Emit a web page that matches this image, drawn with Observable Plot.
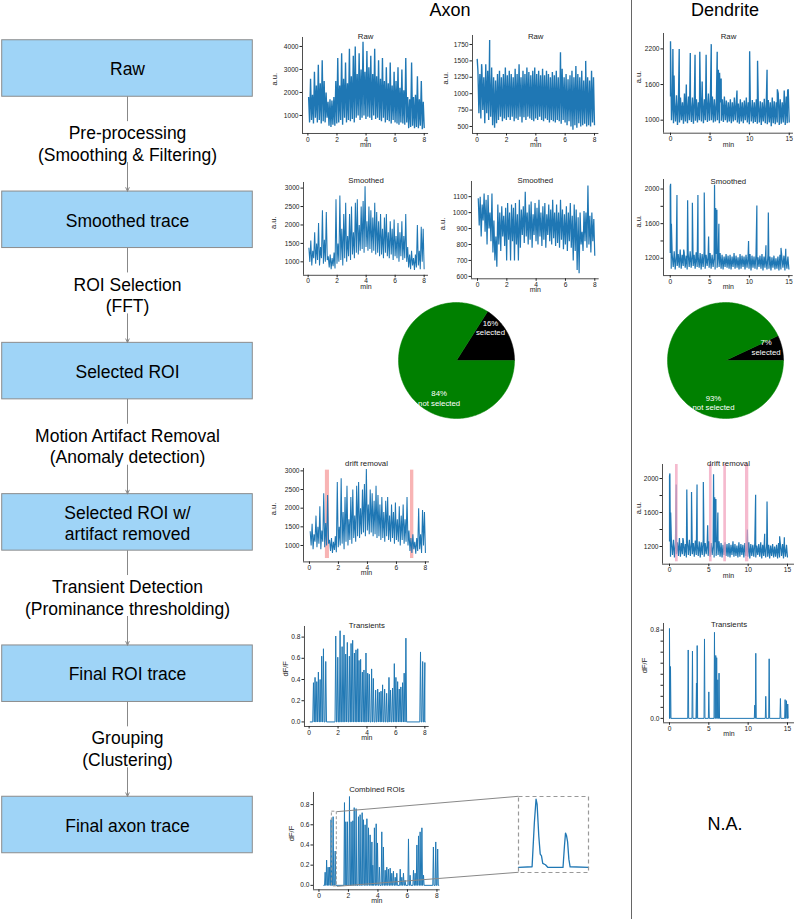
<!DOCTYPE html>
<html><head><meta charset="utf-8">
<script src="https://cdn.jsdelivr.net/npm/d3@7"></script>
<script src="https://cdn.jsdelivr.net/npm/@observablehq/plot@0.6"></script>
<style>
html,body{margin:0;padding:0;background:#fff;}
#fig{position:relative;width:797px;height:919px;overflow:hidden;font-family:"Liberation Sans",Arial,sans-serif;background:#fff;}
#fig svg{position:absolute;overflow:visible !important;max-width:none !important;}
.hdr{position:absolute;top:0;font-size:18px;line-height:20px;transform:translateX(-50%);white-space:nowrap;color:#000;}
#divider{position:absolute;left:630.5px;top:0;width:1.6px;height:919px;background:#666;}
</style></head>
<body><div id="fig">
<div id="divider"></div>
<div class="hdr" style="left:450px">Axon</div>
<div class="hdr" style="left:725px">Dendrite</div>
<div class="hdr" style="left:725px;top:814px">N.A.</div>
</div>
<script>
// ---------------- data ----------------
const steps = ["Raw", "Smoothed trace", "Selected ROI", "Selected ROI w/\nartifact removed", "Final ROI trace", "Final axon trace"];
const transitions = [
  ["Pre-processing", "(Smoothing & Filtering)"],
  ["ROI Selection", "(FFT)"],
  ["Motion Artifact Removal", "(Anomaly detection)"],
  ["Transient Detection", "(Prominance thresholding)"],
  ["Grouping", "(Clustering)"]
];

// Axon raw ROI 1 (a.u.), peaks / troughs across 0-8 min
const axRaw1Hi = [1800,2600,1900,2900,2300,3200,2400,3400,2500,2000,
  1600,1700,1650,1800,
  2500,3500,2300,3700,2600,3300,2400,3900,2700,3600,4000,2800,3700,3000,4200,2900,3800,3100,3600,2800,3900,2700,3400,
  2600,3500,2500,3100,2400,3300,2300,2900,2500,3100,2200,3000,2100,3500,
  1800,1700,3300,1800,1900,2700,1700,2500,1600];
const axRaw1Lo = [700,800,650,900,700,800,650,750,700,900,
  550,500,600,550,
  650,700,800,600,900,700,800,750,850,700,900,1000,800,900,1000,850,950,900,800,1000,850,900,800,
  750,900,700,800,750,650,800,700,650,600,700,650,600,700,
  450,500,550,450,500,450,550,400,450];
const axRaw1Spikes = [];

// Axon raw ROI 2
const axRaw2Hi = [1350,1300,1400,1250,1450,1350,1300,1400,1250,1200,
  1300,1350,1250,1300,1400,1280,1350,1300,1250,1380,
  1300,1450,1250,1350,1300,1400,1330,1280,1350,1400,
  1300,1350,1280,1380,1280,1350,1300,1250,1330,1280,
  1350,1250,1300,1380,1250,1300,1220,1280,1350,1250,
  1420,1300,1250,1350,1200,1300,1250,1200,1350,1250];
const axRaw2Lo = [700,620,750,550,700,600,650,520,480,550,
  600,650,580,620,600,640,600,650,580,620,
  600,650,560,640,600,650,620,600,580,620,
  600,650,600,580,620,600,560,600,580,560,
  600,580,540,600,560,520,580,500,450,520,
  480,550,500,520,540,500,520,500,560,520];
const axRaw2Spikes = [[0.0,1530],[0.3,1450],[0.85,1820],[5.68,1630],[7.4,1500]];

// Dendrite raw (0-15 min)
const dnRawHi = [1400,1350,1300,1420,1350,1380,1300,1450,1350,1400,
  1320,1380,1420,1350,1300,1400,1380,1350,1420,1450,
  1380,1400,1350,1320,1380,1300,1350,1400,1330,1300,
  1350,1300,1380,1320,1280,1350,1300,1330,1380,1300,
  1280,1340,1300,1350,1280,1320,1300,1360,1280,1340,
  1300,1380,1320,1300,1450,1350,1300,1500,1400,1520];
const dnRawLo = [1000,950,980,920,960,1000,940,980,950,1000,
  970,940,990,960,1000,980,950,1000,970,990,
  1000,960,980,1000,950,990,970,1000,960,980,
  950,980,1000,960,940,980,950,1000,960,930,
  980,950,970,940,960,920,980,950,930,960,
  900,950,930,960,920,940,960,920,950,960];
const dnRawSpikes = [[0.0,2330],[0.3,2200],[0.45,1750],[1.1,2200],[2.0,1600],[2.5,2130],[3.1,2100],[3.7,2150],[4.0,1650],[4.5,2100],[5.15,2280],[5.9,2150],[6.05,1850],[6.2,1800],[6.4,1700],[8.4,1500],[10.0,2160],[11.0,2000],[12.2,1850],[13.5,1520],[14.8,1500]];

// Axon smoothed ROI 1 (also used for drift removal)
const axSm1Hi = [1380,1580,1300,1800,1500,2050,1400,2400,1600,2350,
  1150,1200,1100,1250,
  2700,1500,2800,1900,2300,2600,1700,2300,2500,1800,2600,2700,2000,2500,2650,3050,2100,2500,2400,2200,2600,2350,2100,
  2300,1900,2200,2300,1800,2100,1900,2150,1700,2050,1800,2100,1700,2300,
  1400,1200,1300,1100,1200,2000,1300,1950,1900];
const axSm1Lo = [1000,900,1100,950,1050,900,1100,950,1000,1050,
  850,800,880,820,
  950,1000,1050,900,1100,1000,1150,1050,1200,1100,1250,1200,1300,1350,1250,1400,1300,1350,1250,1300,1200,1250,1150,
  1200,1100,1250,1150,1100,1200,1050,1150,1100,1000,1150,1050,1100,1000,
  850,800,900,780,850,900,800,1000,800];

// Axon smoothed ROI 2
const axSm2Hi = [1090,1100,1050,1120,1080,1110,1000,1120,950,850,
  1050,1000,1040,980,1030,1060,1000,1050,1030,1060,
  990,1080,1020,1040,1130,1000,1050,1070,990,1060,
  1030,1080,1000,1040,1060,990,1050,1020,1080,1000,
  1050,1000,1080,1020,990,1040,1000,1060,980,1050,
  1020,970,1000,880,1010,1000,1170,980,1000,960];
const axSm2Lo = [920,850,950,880,800,900,820,750,700,660,
  800,760,850,790,700,830,700,820,700,800,
  700,780,860,810,850,800,830,780,860,820,
  800,850,790,830,780,860,820,800,840,790,
  810,780,830,770,800,760,820,780,700,760,
  640,620,800,760,820,780,800,750,820,730];

// Dendrite smoothed (also used for drift removal)
const dnSmHi = [1260,1240,1280,1230,1250,1300,1240,1270,1230,1260,
  1280,1250,1240,1270,1230,1260,1250,1280,1240,1230,
  1260,1240,1220,1250,1230,1260,1240,1220,1250,1230,
  1240,1220,1260,1230,1210,1250,1230,1220,1240,1210,
  1250,1230,1220,1240,1210,1230,1250,1220,1200,1240,
  1220,1210,1230,1200,1220,1240,1210,1230,1200,1220];
const dnSmLo = [1080,1100,1070,1110,1090,1080,1110,1090,1070,1100,
  1090,1110,1080,1100,1090,1070,1100,1080,1110,1090,
  1080,1100,1070,1090,1100,1080,1070,1100,1090,1080,
  1070,1100,1080,1090,1070,1080,1100,1070,1090,1080,
  1060,1090,1080,1070,1100,1080,1060,1090,1070,1080,
  1060,1090,1070,1080,1060,1070,1090,1060,1080,1070];
const dnSmSpikes = [[0.0,2030],[0.05,2060],[0.15,1600],[0.85,1930],[1.7,1300],[2.2,1870],[2.8,1840],[3.5,1930],[4.3,1960],[4.85,1450],[5.6,2050],[5.75,1780],[5.9,1760],[6.15,1600],[9.9,1400],[10.95,1810],[12.1,1350],[12.4,1730],[14.0,1320],[14.6,1310]];

// Motion artifact spans (min)
const axArtifacts = [[1.10,1.38],[6.97,7.20]];
const dnArtifacts = [[0.76,1.10],[5.08,5.42],[6.90,7.24],[9.66,10.08]];

// ROI selection
const pieLabels = ["selected", "not selected"];
const axPie = [16, 84];
const dnPie = [7, 93];

// Transients (dF/F peaks)
const axTransT = [0.30,0.41,0.53,0.64,0.76,0.87,0.99,1.15,
  1.84,1.98,2.14,2.28,2.41,2.53,2.64,2.78,2.90,3.01,3.13,3.24,3.36,3.45,3.56,3.68,3.79,3.93,4.05,4.16,4.32,4.44,4.60,4.74,4.85,4.97,5.08,5.22,5.36,5.52,5.63,5.77,5.89,6.00,6.12,6.23,6.34,6.46,6.57,6.69,
  7.70,7.85,8.00];
const axTransV = [0.37,0.42,0.38,0.47,0.40,0.62,0.69,0.57,
  0.81,0.61,0.86,0.71,0.82,0.64,0.75,0.62,0.74,0.77,0.65,0.68,0.69,0.58,0.59,0.47,0.49,0.65,0.46,0.45,0.50,0.41,0.30,0.31,0.28,0.29,0.35,0.31,0.27,0.42,0.30,0.32,0.55,0.42,0.38,0.31,0.33,0.37,0.46,0.79,
  0.66,0.57,0.56];
const dnTransT = [0.0,0.13,2.38,2.92,3.43,3.52,4.45,5.0,5.72,5.88,6.0,6.14,6.3,10.84,10.97,12.24,12.67,14.1,14.7,14.87,15.03];
const dnTransV = [0.815,0.47,0.62,0.61,0.32,0.66,0.72,0.24,0.78,0.57,0.55,0.35,0.41,0.12,0.59,0.2,0.54,0.18,0.17,0.16,0.13];

// Combined ROIs
const combT = [0.42,0.52,0.62,0.72,0.82,0.96,1.10,
  1.73,1.82,1.93,2.07,2.18,2.30,2.39,2.52,2.68,2.79,2.93,3.02,3.13,3.25,3.36,3.47,3.59,3.65,3.76,3.88,3.97,4.10,4.26,4.37,4.49,4.60,4.71,4.83,4.94,5.05,5.17,5.28,5.51,5.62,5.73,5.84,6.07,6.18,6.41,6.52,6.64,6.75,6.86,6.98,7.09,7.76,7.92,8.05];
const combV = [0.13,0.25,0.18,0.18,0.65,0.68,0.34,
  0.82,0.63,0.63,0.88,0.63,0.64,0.77,0.76,0.68,0.70,0.72,0.65,0.60,0.66,0.57,0.50,0.43,0.20,0.57,0.61,0.42,0.18,0.53,0.38,0.15,0.18,0.16,0.17,0.12,0.14,0.08,0.12,0.16,0.08,0.12,0.05,0.46,0.10,0.15,0.12,0.40,0.49,0.53,0.57,0.10,0.38,0.43,0.36];
const zoomWindow = {t0: 0.875, t1: 1.21, v0: -0.01, v1: 0.73};
const insetT = [0.875,0.940,0.951,0.959,0.964,0.972,0.979,0.985,0.991,1.004,1.016,1.088,1.095,1.100,1.105,1.110,1.116,1.122,1.210];
const insetV = [0,0.007,0.45,0.68,0.63,0.315,0.133,0.116,0.04,0.027,0,0,0.216,0.342,0.315,0.255,0.083,0.007,0];

// tick labels
const axMinTicks = [0,2,4,6,8];
const dnMinTicks = [0,5,10,15];

// ---------------- helpers ----------------
const FONT = '"Liberation Sans", Arial, Helvetica, sans-serif';
const BLUE = "#1f77b4";
const fig = document.getElementById("fig");
function place(svg, left, top){ svg.style.left = left + "px"; svg.style.top = top + "px"; fig.appendChild(svg); }

function dense(t0, t1, hi, lo, spikes){
  const n = hi.length, dt = (t1 - t0) / (n - 0.5), pts = [];
  hi.forEach((h, i) => { const t = t0 + i * dt; pts.push({t, v: h}); pts.push({t: t + dt / 2, v: lo[i]}); });
  (spikes || []).forEach(([t, v]) => pts.push({t, v}));
  return pts.sort((a, b) => a.t - b.t);
}
function peaks(ts, vs, w, t0, t1){
  const pts = [{t: t0, v: 0}];
  ts.forEach((t, i) => { pts.push({t: t - w, v: 0}, {t, v: vs[i]}, {t: t + w, v: 0}); });
  pts.push({t: t1, v: 0});
  return pts.sort((a, b) => a.t - b.t);
}

function tracePanel(o){
  const [fx0, fx1, fy0, fy1] = o.frame;
  const pl = 46, pr = 8, pt = 20, pb = 24;
  const W = fx1 - fx0 + pl + pr, H = fy1 - fy0 + pt + pb;
  const marks = [
    ...(o.under || []),
    Plot.line(o.series, {x: "t", y: "v", stroke: BLUE, strokeWidth: o.sw || 0.9, strokeLinejoin: "miter", strokeLinecap: "butt"}),
    ...(o.over || []),
    Plot.ruleX([o.xd[0]], {stroke: "#222", strokeWidth: 0.8}),
    Plot.ruleY([o.yd[0]], {stroke: "#222", strokeWidth: 0.8}),
    Plot.axisX({ticks: o.xticks, tickSize: 2.5, tickPadding: 1, tickFormat: d => String(d), label: null, stroke: "#222", fill: "#222"}),
    Plot.axisY({ticks: o.yticks, tickSize: 2.5, tickPadding: 1.5, tickFormat: o.yfmt || (d => String(d)), label: null, stroke: "#222", fill: "#222"}),
    Plot.text([o.title], {text: d => d, frameAnchor: "top", dy: o.titleY - fy0, fontSize: 7.8, fill: "#222"}),
    Plot.text(["min"], {text: d => d, frameAnchor: "bottom", dy: 13.5, fontSize: 7, fill: "#222"}),
    Plot.text([o.ylabel], {text: d => d, frameAnchor: "left", dx: o.ylabelX - fx0, rotate: -90, fontSize: 7.5, fill: "#222"}),
    ...(o.extra || [])
  ];
  const svg = Plot.plot({
    width: W, height: H, marginLeft: pl, marginRight: pr, marginTop: pt, marginBottom: pb,
    x: {domain: o.xd}, y: {domain: o.yd},
    style: {fontFamily: FONT, fontSize: "6.6px", color: "#222", background: "transparent", overflow: "visible"},
    marks
  });
  place(svg, fx0 - pl, fy0 - pt);
}

// ---------------- flowchart ----------------
(function(){
  const y0 = 68, y5 = 824.5, stepPx = (y5 - y0) / 5, half = 28.25;
  const boxHalf = half / stepPx;
  const sdata = steps.map((s, i) => ({s, i}));
  const tdata = transitions.map((t, i) => ({a: t[0], b: t[1], i}));
  const svg = Plot.plot({
    width: 262, height: 919, margin: 0,
    x: {domain: [0, 1], range: [1.7, 252.3], axis: null},
    y: {domain: [0, 5], range: [y0, y5], axis: null},
    style: {fontFamily: FONT, background: "transparent", overflow: "visible"},
    marks: [
      Plot.rect(sdata, {x1: 0, x2: 1, y1: d => d.i - boxHalf, y2: d => d.i + boxHalf, fill: "#9fd4f7", stroke: "#8c8c8c", strokeWidth: 1}),
      Plot.text(sdata, {x: 0.5, y: "i", text: "s", fontSize: 17.5, lineHeight: 1.2, fill: "#000"}),
      Plot.arrow(tdata, {x1: 0.5, x2: 0.5, y1: "i", y2: d => d.i + 1, insetStart: half, insetEnd: stepPx - half - 24, headLength: 0, stroke: "#888", strokeWidth: 1}),
      Plot.arrow(tdata, {x1: 0.5, x2: 0.5, y1: "i", y2: d => d.i + 1, insetStart: 94, insetEnd: half + 0.3, headLength: 6, headAngle: 50, stroke: "#888", strokeWidth: 1}),
      Plot.text(tdata, {x: 0.5, y: d => d.i + 0.5, text: d => d.a + "\n" + d.b, fontSize: 17.5, lineHeight: 1.23, dy: -1, fill: "#000"})
    ]
  });
  place(svg, 0, 0);
})();

// ---------------- raw ----------------
tracePanel({frame: [302.3, 428.4, 37, 133], xd: [-0.37, 8.3], yd: [217, 4390], sw: 1.35,
  series: dense(0.05, 8.0, axRaw1Hi, axRaw1Lo, axRaw1Spikes), xticks: axMinTicks, yticks: [1000,2000,3000,4000],
  title: "Raw", titleY: 33, ylabel: "a.u.", ylabelX: 274});
tracePanel({frame: [472, 598.4, 35, 133], xd: [-0.32, 8.3], yd: [393, 1887], sw: 1.35,
  series: dense(0.05, 8.0, axRaw2Hi, axRaw2Lo, axRaw2Spikes), xticks: axMinTicks, yticks: [500,750,1000,1250,1500,1750],
  title: "Raw", titleY: 33, ylabel: "a.u.", ylabelX: 445});
tracePanel({frame: [663, 793, 33.3, 133], xd: [-0.885, 15.54], yd: [781, 2459], sw: 1.35,
  series: dense(0.0, 15.0, dnRawHi, dnRawLo, dnRawSpikes), xticks: dnMinTicks, yticks: [1000,1600,2200],
  title: "Raw", titleY: 33, ylabel: "a.u.", ylabelX: 638});

// ---------------- smoothed ----------------
tracePanel({frame: [303.4, 428.4, 181.7, 274.5], xd: [-0.32, 8.3], yd: [635, 3152], sw: 1.05,
  series: dense(0.05, 8.0, axSm1Hi, axSm1Lo, []), xticks: axMinTicks, yticks: [1000,1500,2000,2500,3000],
  title: "Smoothed", titleY: 177, ylabel: "a.u.", ylabelX: 273});
tracePanel({frame: [470.7, 598.4, 181.4, 278.7], xd: [-0.41, 8.3], yd: [585, 1195], sw: 1.2,
  series: dense(0.05, 8.0, axSm2Hi, axSm2Lo, []), xticks: axMinTicks, yticks: [600,700,800,900,1000,1100],
  title: "Smoothed", titleY: 177, ylabel: "a.u.", ylabelX: 442});
const dnLab = [1200,1600,2000];
tracePanel({frame: [663.3, 793, 178.5, 274.6], xd: [-0.85, 15.54], yd: [1000, 2110], sw: 1.2,
  series: dense(0.0, 15.0, dnSmHi, dnSmLo, dnSmSpikes), xticks: dnMinTicks, yticks: [1200,1400,1600,1800,2000],
  yfmt: d => dnLab.includes(d) ? String(d) : "",
  title: "Smoothed", titleY: 177, ylabel: "a.u.", ylabelX: 638});

// ---------------- pies ----------------
// label anchors in unit-radius coordinates [x, y]
const axPieLabelAt = [[0.586, 0.569], [-0.30, -0.647]];
const dnPieLabelAt = [[0.70, 0.233], [-0.207, -0.724]];
function piePanel(cx, cy, r, values, labelAt){
  const total = d3.sum(values);
  let cum = 0;
  const wedges = values.map((v, i) => {
    const a0 = 2 * Math.PI * cum / total; cum += v;
    const a1 = 2 * Math.PI * cum / total;
    const n = Math.max(2, Math.ceil((a1 - a0) / (Math.PI / 120)));
    const pts = [{x: 0, y: 0}];
    for (let k = 0; k <= n; k++){ const a = a0 + (a1 - a0) * k / n; pts.push({x: Math.cos(a), y: Math.sin(a)}); }
    pts.push({x: 0, y: 0});
    return {pts, label: v + "%\n" + pieLabels[i], lx: labelAt[i][0], ly: labelAt[i][1]};
  });
  const colors = ["#000000", "#008000"];
  const svg = Plot.plot({
    width: 2 * r, height: 2 * r, margin: 0,
    x: {domain: [-1, 1], axis: null}, y: {domain: [-1, 1], axis: null},
    style: {fontFamily: FONT, background: "transparent", overflow: "visible"},
    marks: [
      ...wedges.map((w, i) => Plot.line(w.pts, {x: "x", y: "y", fill: colors[i], stroke: colors[i], strokeWidth: 0.5, curve: "linear"})),
      Plot.text(wedges, {x: "lx", y: "ly", text: "label", fill: "white", fontSize: 7.8, lineHeight: 1.25})
    ]
  });
  place(svg, cx - r, cy - r);
}
piePanel(456, 360, 58, axPie, axPieLabelAt);
piePanel(725, 360, 58, dnPie, dnPieLabelAt);

// ---------------- drift removal ----------------
tracePanel({frame: [303, 429, 468.3, 561.7], xd: [-0.41, 8.28], yd: [560, 3064], sw: 1.05,
  series: dense(0.05, 8.0, axSm1Hi, axSm1Lo, []), xticks: axMinTicks, yticks: [1000,1500,2000,2500,3000],
  under: [Plot.rect(axArtifacts, {x1: d => d[0], x2: d => d[1], y1: 650, y2: 3020, fill: "#f8b4b4"})],
  title: "drift removal", titleY: 460.7, ylabel: "a.u.", ylabelX: 273});
tracePanel({frame: [662, 794, 464.3, 564], xd: [-0.89, 15.89], yd: [992, 2165], sw: 1.2,
  series: dense(0.0, 15.0, dnSmHi, dnSmLo, dnSmSpikes), xticks: dnMinTicks, yticks: [1200,1400,1600,1800,2000],
  yfmt: d => dnLab.includes(d) ? String(d) : "",
  over: [Plot.rect(dnArtifacts, {x1: d => d[0], x2: d => d[1], y1: 1020, y2: 2165, fill: "#f1a0bb", fillOpacity: 0.72})],
  title: "drift removal", titleY: 460, ylabel: "a.u.", ylabelX: 638});

// ---------------- transients ----------------
const f1 = d3.format(".1f");
tracePanel({frame: [304.3, 429, 626, 726], xd: [-0.32, 8.3], yd: [-0.043, 0.9],
  series: peaks(axTransT, axTransV, 0.05, 0.05, 8.0), sw: 1, xticks: axMinTicks, yticks: [0,0.2,0.4,0.6,0.8], yfmt: f1,
  title: "Transients", titleY: 621.7, ylabel: "dF/F", ylabelX: 285});
const dnTransLab = [0, 0.8];
tracePanel({frame: [663, 794, 623.4, 722.7], xd: [-0.76, 15.89], yd: [-0.04, 0.86],
  series: peaks(dnTransT, dnTransV, 0.06, 0.0, 15.0), sw: 1, xticks: dnMinTicks, yticks: [0,0.1,0.2,0.3,0.4,0.5,0.6,0.7,0.8],
  yfmt: d => dnTransLab.some(v => Math.abs(v - d) < 1e-9) ? f1(d) : "",
  title: "Transients", titleY: 621, ylabel: "dF/F", ylabelX: 644});

// ---------------- combined + inset ----------------
(function(){
  const A7 = {frame: [313.3, 440, 791.9, 889.2], xd: [-0.37, 8.22], yd: [-0.044, 0.92]};
  const IN = {frame: [518.3, 588.3, 795.7, 871.7], xd: [zoomWindow.t0, zoomWindow.t1], yd: [-0.05, 0.706]};
  const sx = Plot.scale({x: {domain: A7.xd, range: [A7.frame[0], A7.frame[1]]}});
  const sy = Plot.scale({y: {domain: A7.yd, range: [A7.frame[3], A7.frame[2]]}});
  const ix = Plot.scale({x: {domain: IN.xd, range: [IN.frame[0], IN.frame[1]]}});
  const iy = Plot.scale({y: {domain: IN.yd, range: [IN.frame[3], IN.frame[2]]}});
  const conns = [
    {x1: zoomWindow.t1, y1: zoomWindow.v1, x2: sx.invert(ix.apply(IN.xd[0])), y2: sy.invert(iy.apply(IN.yd[1]))},
    {x1: zoomWindow.t1, y1: zoomWindow.v0, x2: sx.invert(ix.apply(IN.xd[0])), y2: sy.invert(iy.apply(IN.yd[0]))}
  ];
  tracePanel({...A7,
    series: peaks(combT, combV, 0.04, 0.3, 8.15), sw: 1, xticks: axMinTicks, yticks: [0,0.2,0.4,0.6,0.8], yfmt: f1,
    extra: [
      Plot.rect([zoomWindow], {x1: "t0", x2: "t1", y1: "v0", y2: "v1", fill: "none", stroke: "#999", strokeWidth: 1, strokeDasharray: "3,2"}),
      Plot.link(conns, {x1: "x1", y1: "y1", x2: "x2", y2: "y2", stroke: "#888", strokeWidth: 1})
    ],
    title: "Combined ROIs", titleY: 785.7, ylabel: "dF/F", ylabelX: 291.7});
  const inset = insetT.map((t, i) => ({t, v: insetV[i]}));
  const [fx0, fx1, fy0, fy1] = IN.frame;
  const svg = Plot.plot({
    width: fx1 - fx0, height: fy1 - fy0, margin: 0,
    x: {domain: IN.xd, axis: null}, y: {domain: IN.yd, axis: null},
    style: {background: "transparent", overflow: "visible"},
    marks: [
      Plot.line(inset, {x: "t", y: "v", stroke: BLUE, strokeWidth: 1.3}),
      Plot.frame({stroke: "#999", strokeWidth: 1.2, strokeDasharray: "4,3"})
    ]
  });
  place(svg, fx0, fy0);
})();
</script>
</body></html>
